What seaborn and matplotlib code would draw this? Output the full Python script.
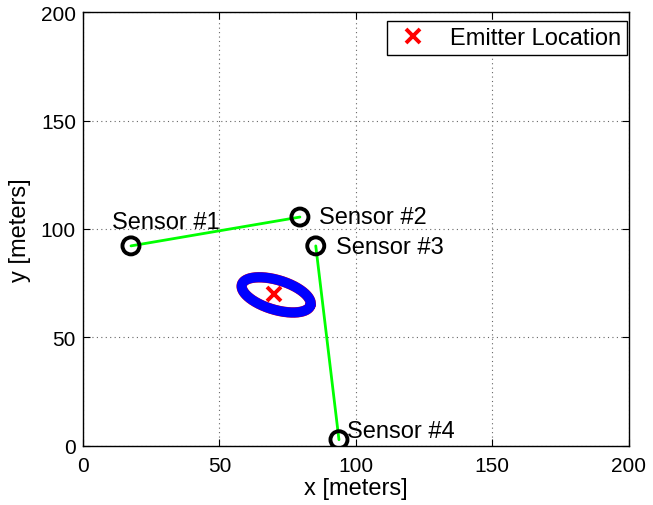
import numpy as np
import pandas as pd
import matplotlib
matplotlib.use("Agg")
import matplotlib.pyplot as plt
import seaborn as sns

# ---- data ----
sensor_names = ["Sensor #1", "Sensor #2", "Sensor #3", "Sensor #4"]
sensor_x = [17.6, 79.5, 85.3, 93.8]
sensor_y = [92.2, 105.5, 92.2, 2.8]
label_x = [10.6, 86.5, 92.8, 96.8]
label_y = [103.0, 105.3, 91.8, 6.6]
pair_a = [0, 2]
pair_b = [1, 3]
emitter_x = [70.1]
emitter_y = [69.8]
# error ellipse (centre, pixel-space semi axes and tilt)
ell_cx = 70.8
ell_cy = 69.6
ell_a_px = 35.8
ell_b_px = 14.8
ell_tilt_deg = -17.0
xticks = [0, 50, 100, 150, 200]
yticks = [0, 50, 100, 150, 200]

sns.set_style("white")
plt.rcParams["font.family"] = ["Liberation Sans", "DejaVu Sans"]
plt.rcParams["text.color"] = "black"
plt.rcParams["axes.labelcolor"] = "black"
plt.rcParams["xtick.color"] = "black"
plt.rcParams["ytick.color"] = "black"

fig = plt.figure(figsize=(6.53, 5.06), dpi=100)
ax = fig.add_axes([0.127, 0.117, 0.836, 0.857])
ax.set_xlim(0, 200)
ax.set_ylim(0, 200)

px_x = 0.836 * 653 / 200.0
px_y = 0.857 * 506 / 200.0

# ellipse
t = np.linspace(0, 2 * np.pi, 400)
th = np.deg2rad(ell_tilt_deg)
ux = ell_a_px * np.cos(t)
uy = ell_b_px * np.sin(t)
ex = ell_cx + (ux * np.cos(th) - uy * np.sin(th)) / px_x
ey = ell_cy + (ux * np.sin(th) + uy * np.cos(th)) / px_y
ell_df = pd.DataFrame({"x": ex, "y": ey})
sns.lineplot(data=ell_df, x="x", y="y", sort=False, estimator=None, ax=ax,
             color="#ff0000", lw=7.5, zorder=2)
sns.lineplot(data=ell_df, x="x", y="y", sort=False, estimator=None, ax=ax,
             color="#0000ff", lw=7.2, zorder=3)

# green baselines
for a, b in zip(pair_a, pair_b):
    df = pd.DataFrame({"x": [sensor_x[a], sensor_x[b]], "y": [sensor_y[a], sensor_y[b]]})
    sns.lineplot(data=df, x="x", y="y", sort=False, estimator=None, ax=ax,
                 color="#00ff00", lw=2, zorder=4)

# sensors
sdf = pd.DataFrame({"x": sensor_x, "y": sensor_y})
sns.scatterplot(data=sdf, x="x", y="y", ax=ax, marker="o", s=150,
                facecolor="none", edgecolor="black", linewidth=2.8, zorder=5)
for n, lx, ly in zip(sensor_names, label_x, label_y):
    ax.text(lx, ly, n, fontsize=17, va="center", ha="left", zorder=6)

# emitter
ax.plot(emitter_x, emitter_y, linestyle="none", marker="x", color="red",
        markersize=10, markeredgewidth=2.8, zorder=7, label="Emitter Location")

ax.set_xticks(xticks)
ax.set_yticks(yticks)
ax.tick_params(direction="in", length=5, labelsize=15, colors="black",
               top=True, right=True, bottom=True, left=True)
ax.tick_params(axis="x", pad=7)
ax.tick_params(axis="y", pad=5)
ax.grid(True, linestyle=(0, (1, 3)), color="#666666", lw=0.8)
for s in ax.spines.values():
    s.set_color("black")
    s.set_linewidth(1.0)
ax.set_xlabel("x [meters]", fontsize=17, labelpad=2)
ax.set_ylabel("y [meters]", fontsize=17, labelpad=7)

leg = ax.legend(loc="upper right", bbox_to_anchor=(0.9963, 0.979),
                fontsize=17, frameon=True, fancybox=False,
                edgecolor="black", framealpha=1, borderaxespad=0,
                handletextpad=0.7, borderpad=0.25, handlelength=1.7)
leg.get_frame().set_linewidth(1.0)

fig.savefig("out.png", dpi=100)
